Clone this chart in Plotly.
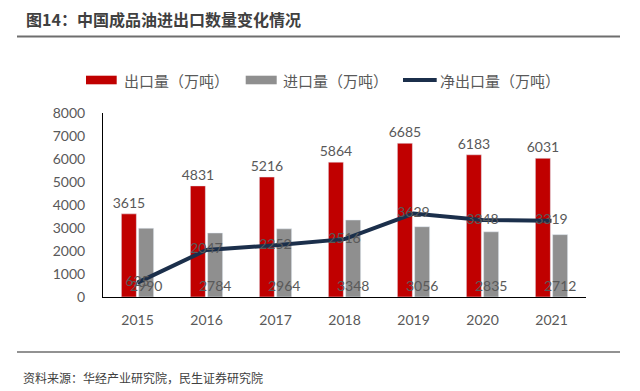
import plotly.graph_objects as go

years = ["2015", "2016", "2017", "2018", "2019", "2020", "2021"]
exports = [3615, 4831, 5216, 5864, 6685, 6183, 6031]
imports = [2990, 2784, 2964, 3348, 3056, 2835, 2712]
net = [625, 2047, 2252, 2516, 3629, 3348, 3319]

names = ["出口量（万吨）", "进口量（万吨）", "净出口量（万吨）"]
title = "图14：中国成品油进出口数量变化情况"
source = "资料来源：华经产业研究院，民生证券研究院"

RED = "#C00000"
GRAY = "#8F8F8F"
NAVY = "#1B2F4B"
LBL = "#595959"
NUMFONT = "Lato, Noto Sans CJK SC, sans-serif"
CJK = "Noto Sans CJK SC, sans-serif"

fig = go.Figure()
fig.add_trace(go.Bar(
    x=years, y=exports, name=names[0], marker_color=RED,
    text=[str(v) for v in exports], textposition="outside",
    textfont=dict(family=NUMFONT, size=14, color=LBL), cliponaxis=False,
    constraintext="none",
))
fig.add_trace(go.Bar(
    x=years, y=imports, name=names[1], marker_color=GRAY,
    text=[str(v) for v in imports], textposition="inside", insidetextanchor="start",
    textfont=dict(family=NUMFONT, size=14, color=LBL), constraintext="none",
    textangle=0,
))
fig.add_trace(go.Scatter(
    x=years, y=net, name=names[2], mode="lines+text",
    line=dict(color=NAVY, width=4),
    text=[str(v) for v in net], textposition="middle center",
    textfont=dict(family=NUMFONT, size=14, color=LBL), cliponaxis=False,
))

# page body has an 8px margin; figure is sized so the screen layout matches
OFF = 8
SL, ST, SB, SR = 103, 113, 297, 586   # plot area on screen
FW, FH = 640 - OFF, 391 - OFF
L, T = SL - OFF, ST - OFF
B = 391 - SB
R = 640 - SR
W = SR - SL
H = SB - ST


def px(x):
    return (x - SL) / W


def py(y):
    return (SB - y) / H


legend_items = [
    (names[0], "rect", RED, 86, 116.7, 121.5),
    (names[1], "rect", GRAY, 245.7, 276.7, 280.5),
    (names[2], "line", NAVY, 403, 436.7, 438),
]
shapes = [
    dict(type="line", xref="paper", yref="paper", x0=px(17), x1=px(620),
         y0=py(36.5), y1=py(36.5), line=dict(color="#6E6E6E", width=2)),
    dict(type="line", xref="paper", yref="paper", x0=px(17), x1=px(620),
         y0=py(352), y1=py(352), line=dict(color="#6E6E6E", width=1.5)),
]
annotations = [
    dict(text="<b>" + title + "</b>", xref="paper", yref="paper",
         x=px(24), y=py(18.5), xanchor="left", yanchor="middle", showarrow=False,
         font=dict(family=CJK, size=16, color="#404040")),
    dict(text=source, xref="paper", yref="paper",
         x=px(21), y=py(377), xanchor="left", yanchor="middle", showarrow=False,
         font=dict(family=CJK, size=12, color="#404040")),
]
for name, kind, color, x0, x1, tx in legend_items:
    if kind == "rect":
        shapes.append(dict(type="rect", xref="paper", yref="paper", x0=px(x0), x1=px(x1),
                           y0=py(84.3), y1=py(75.7), fillcolor=color, line=dict(width=0)))
    else:
        shapes.append(dict(type="line", xref="paper", yref="paper", x0=px(x0), x1=px(x1),
                           y0=py(80), y1=py(80), line=dict(color=color, width=4)))
    annotations.append(dict(text=name, xref="paper", yref="paper", x=px(tx), y=py(80),
                            xanchor="left", yanchor="middle", showarrow=False,
                            font=dict(family=CJK, size=15, color=LBL)))

fig.update_layout(
    width=FW, height=FH,
    margin=dict(l=L, r=R, t=T, b=B, autoexpand=False),
    paper_bgcolor="white", plot_bgcolor="white",
    barmode="group", bargap=0.5, bargroupgap=0.13,
    showlegend=False,
    xaxis=dict(showline=True, linecolor="black", linewidth=1, ticks="",
               tickfont=dict(family=NUMFONT, size=14, color=LBL), ticklabelstandoff=10,
               automargin=False),
    yaxis=dict(range=[0, 8000], dtick=1000, showline=True, linecolor="black", linewidth=1,
               showgrid=False, zeroline=False, ticks="",
               tickfont=dict(family=NUMFONT, size=14, color=LBL), ticklabelstandoff=14,
               automargin=False),
    annotations=annotations,
    shapes=shapes,
)

fig.write_html("out.html")
